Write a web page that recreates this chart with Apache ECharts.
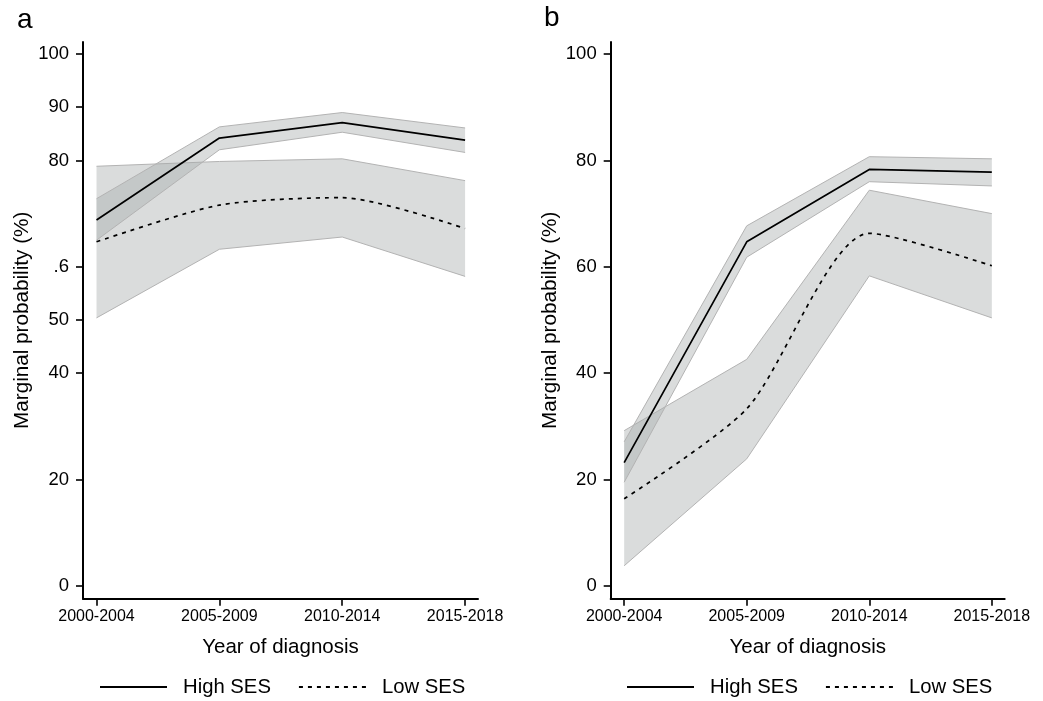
<!DOCTYPE html>
<html>
<head>
<meta charset="utf-8">
<script src="https://cdn.jsdelivr.net/npm/echarts@6/dist/echarts.min.js"></script>
<style>
html,body{margin:0;padding:0;background:#fff;}
#chart{width:1043px;height:701px;}
</style>
</head>
<body>
<div id="chart"></div>
<script>
// ---- data ----
const categories = ['2000-2004', '2005-2009', '2010-2014', '2015-2018'];

// Panel a
const aHigh      = [68.8, 84.2, 87.1, 83.8];
const aHighLower = [65.0, 82.0, 85.3, 81.5];
const aHighUpper = [72.8, 86.3, 89.0, 86.1];
const aLow       = [64.7, 71.6, 73.0, 67.2];
const aLowLower  = [50.4, 63.3, 65.6, 58.2];
const aLowUpper  = [78.9, 79.8, 80.3, 76.2];

// Panel b
const bHigh      = [23.2, 64.7, 78.3, 77.8];
const bHighLower = [19.5, 61.8, 76.0, 75.2];
const bHighUpper = [27.1, 67.7, 80.7, 80.3];
const bLow       = [16.4, 33.3, 66.3, 60.2];
const bLowLower  = [ 3.8, 23.9, 58.3, 50.4];
const bLowUpper  = [29.2, 42.6, 74.4, 70.0];

const aTicks = [0, 20, 40, 50, 60, 80, 90, 100];
const aTickLabels = ['0', '20', '40', '50', '.6', '80', '90', '100'];
const bTicks = [0, 20, 40, 60, 80, 100];
const bTickLabels = ['0', '20', '40', '60', '80', '100'];
const xTicks = [0, 1, 2, 3];

// ---- helpers ----
const pts = arr => arr.map((v, i) => [i, v]);

const FONT = 'Liberation Sans, Arial, Helvetica, sans-serif';
const bandFill = 'rgba(168,171,171,0.42)';
const bandEdge = '#b3b3b3';

function band(idx, name, lo, hi) {
  return {
    name: name, type: 'custom', xAxisIndex: idx, yAxisIndex: idx, silent: true, z: 1,
    data: lo.map((v, i) => [i, v, hi[i]]),
    encode: { x: 0, y: [1, 2] },
    renderItem: function (params, api) {
      if (params.dataIndex !== 0) return null;
      const upper = hi.map((v, i) => api.coord([i, v]));
      const lower = lo.map((v, i) => api.coord([i, v]));
      const poly = upper.concat(lower.slice().reverse());
      return {
        type: 'group',
        children: [
          { type: 'polygon', shape: { points: poly }, style: { fill: bandFill, stroke: null } },
          { type: 'polyline', shape: { points: upper }, style: { fill: null, stroke: bandEdge, lineWidth: 1 } },
          { type: 'polyline', shape: { points: lower }, style: { fill: null, stroke: bandEdge, lineWidth: 1 } }
        ]
      };
    }
  };
}

function mainLines(idx, high, low) {
  return [
    {
      name: 'High SES', type: 'line', xAxisIndex: idx, yAxisIndex: idx,
      data: pts(high), symbol: 'none', showSymbol: false,
      lineStyle: { color: '#000', width: 1.7, type: 'solid' },
      itemStyle: { color: '#000' }, z: 5
    },
    {
      name: 'Low SES', type: 'line', xAxisIndex: idx, yAxisIndex: idx,
      data: pts(low), symbol: 'none', showSymbol: false, smooth: 0.25,
      lineStyle: { color: '#000', width: 1.7, type: [4, 5] },
      itemStyle: { color: '#000' }, z: 5
    }
  ];
}

function xAxis(idx) {
  return {
    type: 'value', gridIndex: idx, min: -0.11, max: 3.105,
    name: 'Year of diagnosis', nameLocation: 'middle', nameGap: 38,
    nameTextStyle: { fontSize: 20.5, color: '#000', fontFamily: FONT },
    axisLine: { show: true, onZero: false, lineStyle: { color: '#000', width: 2 } },
    axisTick: { show: true, length: 7, customValues: xTicks, lineStyle: { color: '#000', width: 1.6 } },
    axisLabel: {
      customValues: xTicks, margin: 10, fontSize: 16, color: '#000', fontFamily: FONT,
      formatter: v => categories[Math.round(v)]
    },
    splitLine: { show: false }
  };
}

function yAxis(idx, ticks, labels) {
  return {
    type: 'value', gridIndex: idx, min: -2.39, max: 102.26,
    name: 'Marginal probability (%)', nameLocation: 'middle', nameGap: 50, nameRotate: 90,
    nameTextStyle: { fontSize: 20.7, color: '#000', fontFamily: FONT },
    axisLine: { show: true, onZero: false, lineStyle: { color: '#000', width: 2 } },
    axisTick: { show: true, length: 7, customValues: ticks, lineStyle: { color: '#000', width: 1.6 } },
    axisLabel: {
      customValues: ticks, margin: 14, fontSize: 18.5, color: '#000', fontFamily: FONT,
      formatter: v => { const k = ticks.indexOf(Math.round(v)); return k >= 0 ? labels[k] : ''; }
    },
    splitLine: { show: false }
  };
}

const solidIcon = 'path://M0,0 L67,0 L67,2 L0,2 Z';
const dashIcon = 'path://' + [0, 9, 18, 27, 36, 45, 54, 63].map(s => `M${s},0 L${s + 4},0 L${s + 4},2 L${s},2 Z`).join(' ');

function legend(left) {
  return {
    left: left, top: 677, orient: 'horizontal', padding: 0,
    data: [{ name: 'High SES', icon: solidIcon }, { name: 'Low SES', icon: dashIcon }],
    itemWidth: 67, itemHeight: 2, itemGap: 28,
    itemStyle: { color: '#000', borderWidth: 0 },
    lineStyle: { width: 0 },
    textStyle: { fontSize: 20.3, color: '#000', fontFamily: FONT, padding: [0, 0, 0, 11] },
    selectedMode: false
  };
}

const chart = echarts.init(document.getElementById('chart'), null, { renderer: 'canvas' });
chart.setOption({
  backgroundColor: '#fff',
  animation: false,
  title: [
    { text: 'a', left: 17, top: 6, padding: 0, textStyle: { fontSize: 28, fontWeight: 'normal', color: '#000', fontFamily: FONT } },
    { text: 'b', left: 544, top: 4, padding: 0, textStyle: { fontSize: 28, fontWeight: 'normal', color: '#000', fontFamily: FONT } }
  ],
  grid: [
    { left: 83, top: 42, width: 395, height: 556.7, containLabel: false },
    { left: 610.7, top: 42, width: 394, height: 556.7, containLabel: false }
  ],
  xAxis: [xAxis(0), xAxis(1)],
  yAxis: [yAxis(0, aTicks, aTickLabels), yAxis(1, bTicks, bTickLabels)],
  legend: [legend(100), legend(627)],
  series: [
    band(0, 'aLowBand', aLowLower, aLowUpper),
    band(0, 'aHighBand', aHighLower, aHighUpper),
    ...mainLines(0, aHigh, aLow),
    band(1, 'bLowBand', bLowLower, bLowUpper),
    band(1, 'bHighBand', bHighLower, bHighUpper),
    ...mainLines(1, bHigh, bLow)
  ]
});
</script>
</body>
</html>
